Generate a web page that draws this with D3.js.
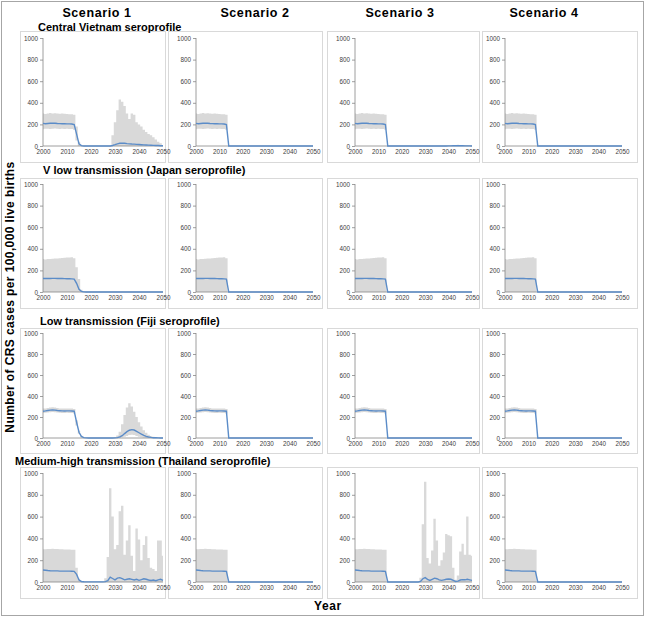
<!DOCTYPE html>
<html><head><meta charset="utf-8">
<script src="https://cdn.jsdelivr.net/npm/d3@7"></script>
<style>body{margin:0;background:#fff} svg{display:block;font-family:"Liberation Sans",Arial,sans-serif}</style>
</head><body><svg id="c" width="645" height="619"></svg>
<script>
// ---------- categories & labels ----------
const years = [2000,2001,2002,2003,2004,2005,2006,2007,2008,2009,2010,2011,2012,2013,2014,2015,2016,2017,2018,2019,2020,2021,2022,2023,2024,2025,2026,2027,2028,2029,2030,2031,2032,2033,2034,2035,2036,2037,2038,2039,2040,2041,2042,2043,2044,2045,2046,2047,2048,2049,2050];
const yTicks = [0,200,400,600,800,1000];
const xTicks = [2000,2010,2020,2030,2040,2050];
const scenarioLabels = ["Scenario 1","Scenario 2","Scenario 3","Scenario 4"];
const rowTitles = ["Central Vietnam seroprofile","V low transmission (Japan seroprofile)","Low transmission (Fiji seroprofile)","Medium-high transmission (Thailand seroprofile)"];
const yTitle = "Number of CRS cases per 100,000 live births";
const xTitle = "Year";

// ---------- 2000-2013 (pre-intervention) values ----------
const vnMed = [210,206,208,210,212,210,208,207,206,206,205,205,204,198];
const vnUp  = [300,296,300,305,302,303,300,298,300,298,296,295,295,290];
const vnLo  = [155,160,160,158,160,162,160,158,160,158,160,158,158,150];
const jpMed = [125,125,125,125,126,126,125,125,125,124,123,123,122,120];
const jpUp  = [305,300,305,305,308,310,310,312,315,318,320,320,322,312];
const jpLo  = [0,0,0,0,0,0,0,0,0,0,0,0,0,0];
const fjMed = [255,258,262,265,268,265,262,260,258,257,258,258,257,255];
const fjUp  = [280,282,285,290,292,290,285,282,280,280,282,282,280,276];
const fjLo  = [238,240,243,246,248,246,243,241,239,239,240,239,238,234];
const thMed = [110,108,105,103,102,102,102,100,100,100,100,100,99,98];
const thUp  = [300,300,302,303,305,303,302,300,300,298,298,298,297,295];
const thLo  = [0,0,0,0,0,0,0,0,0,0,0,0,0,0];

// ---------- 2014-2050 values ----------
const zeroTail = [0,0,0,0,0,0,0,0,0,0,0,0,0,0,0,0,0,0,0,0,0,0,0,0,0,0,0,0,0,0,0,0,0,0,0,0,0];
const vnS1Med = [110,20,3,0,0,0,0,0,0,0,0,0,0,0,0,5,12,20,25,27,25,22,20,18,17,15,14,12,10,9,8,7,6,5,4,3,2];
const vnS1Up  = [180,40,10,0,0,0,0,0,0,0,0,0,0,0,0,100,220,330,430,410,370,300,250,300,290,220,200,180,150,130,110,100,80,60,40,25,10];
const vnS1Lo  = [50,0,0,0,0,0,0,0,0,0,0,0,0,0,0,0,0,0,0,0,0,0,0,0,0,0,0,0,0,0,0,0,0,0,0,0,0];
const vnS3Med = [0,0,0,0,0,0,0,0,0,0,0,0,0,0,0,0,0,0,0,0,0,0,0,0,0,0,1,1,2,2,2,2,2,1,1,1,0];
const vnS3Up  = [0,0,0,0,0,0,0,0,0,0,0,0,0,0,0,0,0,0,0,0,0,0,0,0,0,0,3,5,8,10,12,10,8,6,5,3,2];
const jpS1Med = [80,25,6,1,0,0,0,0,0,0,0,0,0,0,0,0,0,0,0,0,0,0,0,0,0,0,0,0,0,0,0,0,0,0,0,0,0];
const jpS1Up  = [230,120,20,3,0,0,0,0,0,0,0,0,0,0,0,0,0,0,0,0,0,0,0,0,0,0,0,0,0,0,0,0,0,0,0,0,0];
const fjS1Med = [150,55,15,3,1,0,0,0,0,0,0,0,0,0,0,0,1,4,10,22,42,60,74,80,76,64,50,36,25,16,10,6,3,2,1,0,0];
const fjS1Up  = [170,70,22,5,1,0,0,0,0,0,0,0,0,0,0,0,8,25,60,130,220,290,330,300,250,200,150,110,75,50,32,20,12,6,3,1,0];
const fjS1Lo  = [120,40,8,1,0,0,0,0,0,0,0,0,0,0,0,0,0,0,2,6,12,20,28,32,28,20,12,6,3,1,0,0,0,0,0,0,0];
const thS1Med = [70,18,5,2,1,1,1,1,1,1,1,1,3,12,45,32,20,35,40,30,20,25,30,24,18,25,15,22,30,25,18,14,18,12,20,25,15];
const thS1Up  = [130,30,5,2,0,0,0,0,0,0,0,0,35,230,860,600,300,340,650,700,250,380,520,240,100,490,390,200,340,420,220,130,120,100,380,380,240];
const thS3Med = [0,0,0,0,0,0,0,0,0,0,0,0,0,0,5,30,40,25,15,25,35,30,20,15,20,25,28,25,15,5,8,18,22,20,25,20,15];
const thS3Up  = [0,0,0,0,0,0,0,0,0,0,0,0,0,0,40,530,920,220,170,290,580,380,150,200,270,440,430,420,130,20,60,280,350,250,600,250,240];

// ---------- panel definitions (row x scenario) ----------
const panelData = [
  [ {m:vnMed.concat(vnS1Med), u:vnUp.concat(vnS1Up), l:vnLo.concat(vnS1Lo)},
    {m:vnMed.concat(zeroTail), u:vnUp.concat(zeroTail), l:vnLo.concat(zeroTail)},
    {m:vnMed.concat(vnS3Med), u:vnUp.concat(vnS3Up), l:vnLo.concat(zeroTail)},
    {m:vnMed.concat(zeroTail), u:vnUp.concat(zeroTail), l:vnLo.concat(zeroTail)} ],
  [ {m:jpMed.concat(jpS1Med), u:jpUp.concat(jpS1Up), l:jpLo.concat(zeroTail)},
    {m:jpMed.concat(zeroTail), u:jpUp.concat(zeroTail), l:jpLo.concat(zeroTail)},
    {m:jpMed.concat(zeroTail), u:jpUp.concat(zeroTail), l:jpLo.concat(zeroTail)},
    {m:jpMed.concat(zeroTail), u:jpUp.concat(zeroTail), l:jpLo.concat(zeroTail)} ],
  [ {m:fjMed.concat(fjS1Med), u:fjUp.concat(fjS1Up), l:fjLo.concat(fjS1Lo)},
    {m:fjMed.concat(zeroTail), u:fjUp.concat(zeroTail), l:fjLo.concat(zeroTail)},
    {m:fjMed.concat(zeroTail), u:fjUp.concat(zeroTail), l:fjLo.concat(zeroTail)},
    {m:fjMed.concat(zeroTail), u:fjUp.concat(zeroTail), l:fjLo.concat(zeroTail)} ],
  [ {m:thMed.concat(thS1Med), u:thUp.concat(thS1Up), l:thLo.concat(zeroTail)},
    {m:thMed.concat(zeroTail), u:thUp.concat(zeroTail), l:thLo.concat(zeroTail)},
    {m:thMed.concat(thS3Med), u:thUp.concat(thS3Up), l:thLo.concat(zeroTail)},
    {m:thMed.concat(zeroTail), u:thUp.concat(zeroTail), l:thLo.concat(zeroTail)} ]
];

// ---------- layout ----------
const colX = [[43,163],[196,313],[355,472],[505,622]];
const rowY = [[146,38],[292,184],[438,333],[582,473]];
const boxX = [[20,165],[168,322],[327,479],[482,637]];
const boxY = [[31,162],[178,308],[328,453],[467,598]];
const headerX = [97,255,400,544];
const rowTitleX = [38,43,40,15];
const rowTitleY = [30.5,174,325,465];

const svg = d3.select("#c");
svg.append("rect").attr("x",1.5).attr("y",1.5).attr("width",642).attr("height",614)
  .attr("fill","none").attr("stroke","#a6a6a6").attr("stroke-width",1);

// panel boxes
boxY.forEach(by => boxX.forEach(bx => {
  svg.append("rect").attr("x",bx[0]+0.5).attr("y",by[0]+0.5).attr("width",bx[1]-bx[0]).attr("height",by[1]-by[0])
    .attr("fill","none").attr("stroke","#d9d9d9").attr("stroke-width",1);
}));

// headers
scenarioLabels.forEach((s,i) => {
  svg.append("text").attr("x",headerX[i]).attr("y",17).attr("text-anchor","middle")
    .attr("font-size",12.5).attr("font-weight","bold").attr("letter-spacing",0.6).attr("fill","#000").text(s);
});
rowTitles.forEach((t,i) => {
  svg.append("text").attr("x",rowTitleX[i]).attr("y",rowTitleY[i])
    .attr("font-size",11).attr("font-weight","bold").attr("fill","#000").text(t);
});
svg.append("text").attr("transform","translate(14,297) rotate(-90)").attr("text-anchor","middle")
  .attr("font-size",12).attr("font-weight","bold").attr("letter-spacing",0.4).text(yTitle);
svg.append("text").attr("x",328).attr("y",610).attr("text-anchor","middle")
  .attr("font-size",12).attr("font-weight","bold").attr("letter-spacing",0.6).text(xTitle);

panelData.forEach((row,ri) => row.forEach((p,ci) => {
  const x = d3.scaleLinear().domain([2000,2050]).range(colX[ci]);
  const y = d3.scaleLinear().domain([0,1000]).range(rowY[ri]);
  const g = svg.append("g");
  const pts = years.map((yr,k) => ({yr, m:p.m[k], u:p.u[k], l:p.l[k]}));
  g.append("path").datum(pts)
    .attr("d", d3.area().x(d=>x(d.yr)).y0(d=>y(d.l)).y1(d=>y(d.u)).curve(d3.curveStep))
    .attr("fill","#d9d9d9");
  // axes
  const ya = g.append("g").attr("transform",`translate(${colX[ci][0]},0)`)
    .call(d3.axisLeft(y).tickValues(yTicks).tickSize(3).tickPadding(2).tickFormat(d3.format("d")));
  const xa = g.append("g").attr("transform",`translate(0,${rowY[ri][0]})`)
    .call(d3.axisBottom(x).tickValues(xTicks).tickSize(0).tickPadding(4).tickFormat(d3.format("d")));
  [ya,xa].forEach(a => {
    a.select(".domain").attr("stroke","#868686").attr("stroke-width",0.8);
    a.selectAll(".tick line").attr("stroke","#868686").attr("stroke-width",0.8);
    a.selectAll(".tick text").attr("fill","#404040").attr("font-size",6.3)
      .attr("font-family","'Liberation Sans',Arial,sans-serif");
  });
  ya.select(".domain").attr("d",`M0,${rowY[ri][0]}V${rowY[ri][1]}`);
  xa.select(".domain").attr("d",`M${colX[ci][0]},0H${colX[ci][1]}`);
  g.append("path").datum(pts)
    .attr("d", d3.line().x(d=>x(d.yr)).y(d=>y(d.m)))
    .attr("fill","none").attr("stroke","#5b8cc8").attr("stroke-width",1.4);
}));
</script></body></html>
